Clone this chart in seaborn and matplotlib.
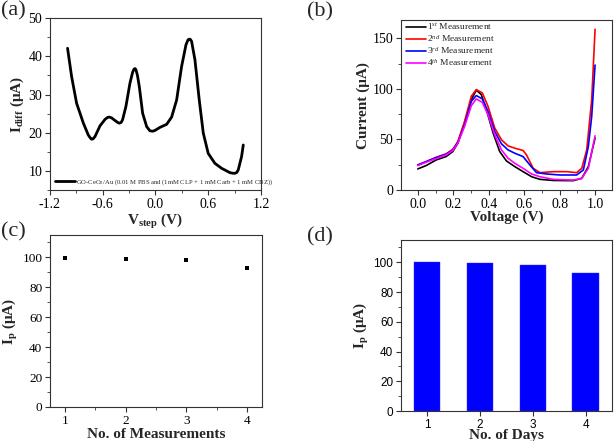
import numpy as np
import pandas as pd
import matplotlib
matplotlib.use("Agg")
import matplotlib.pyplot as plt
from matplotlib.ticker import MultipleLocator
import seaborn as sns

# ---------------- data ----------------
# (a) DPV curve
a_v = [-1.0, -0.954, -0.897, -0.82, -0.764, -0.74, -0.726, -0.71, -0.688, -0.631, -0.574,
       -0.545, -0.525, -0.5, -0.46, -0.43, -0.411, -0.39, -0.374, -0.336, -0.29, -0.26,
       -0.245, -0.233, -0.222, -0.205, -0.184, -0.146, -0.1, -0.063, -0.03, -0.006, 0.051,
       0.127, 0.184, 0.241, 0.297, 0.347, 0.37, 0.385, 0.398, 0.411, 0.449, 0.498, 0.544,
       0.6, 0.676, 0.752, 0.847, 0.88, 0.904, 0.925, 0.942, 0.98, 0.999]
a_i = [42.1, 34.7, 27.7, 22.5, 19.4, 18.6, 18.3, 18.4, 19.0, 21.8, 23.5,
       24.0, 24.1, 23.9, 23.2, 22.7, 22.5, 22.7, 23.4, 26.9, 33.0, 35.8,
       36.6, 36.8, 36.5, 35.0, 32.1, 25.1, 21.6, 20.5, 20.4, 20.6, 21.4,
       22.2, 24.1, 28.6, 37.3, 43.0, 44.3, 44.5, 44.4, 43.9, 39.1, 28.6, 19.9,
       14.6, 12.0, 10.7, 9.56, 9.4, 9.4, 9.6, 10.3, 13.8, 16.8]
a_label = "GO-CeO$_2$/Au (0.01 M PBS and (1mM CLP + 1 mM Carb + 1 mM CBZ))"

# (b) repeated measurements
b1_v = [0, 0.047, 0.104, 0.16, 0.198, 0.226, 0.264, 0.302, 0.33, 0.358, 0.387, 0.425,
        0.462, 0.5, 0.547, 0.594, 0.642, 0.689, 0.764, 0.877, 0.925, 0.962, 1.0]
b1_i = [20.9, 24.2, 29.8, 33.1, 38.1, 46.4, 66.2, 89.4, 98.7, 94.4, 79.5, 56.3,
        38.1, 28.8, 23.2, 18.2, 13.2, 10.6, 9.5, 9.3, 11.6, 23.2, 51.3]
b2_v = [0, 0.047, 0.104, 0.16, 0.198, 0.226, 0.264, 0.302, 0.33, 0.364, 0.396, 0.434,
        0.472, 0.509, 0.547, 0.594, 0.613, 0.651, 0.689, 0.764, 0.84, 0.896, 0.925,
        0.953, 0.981, 1.0]
b2_i = [24.8, 28.1, 32.4, 35.8, 40.4, 48.0, 67.9, 92.7, 99.3, 96.0, 82.8, 61.3,
        49.7, 43.7, 41.4, 39.1, 34.8, 21.5, 17.2, 18.2, 18.2, 17.2, 21.5,
        39.7, 89.4, 158.9]
b3_v = [0, 0.047, 0.104, 0.16, 0.198, 0.226, 0.264, 0.302, 0.33, 0.364, 0.396, 0.434,
        0.472, 0.509, 0.547, 0.594, 0.632, 0.67, 0.726, 0.802, 0.896, 0.934, 0.962,
        0.981, 1.0]
b3_i = [24.8, 28.1, 32.1, 35.4, 39.7, 47.0, 64.6, 87.7, 93.4, 90.1, 77.8, 57.9,
        45.7, 39.7, 36.4, 33.1, 24.8, 17.2, 15.9, 14.9, 14.9, 19.9, 43.0,
        72.8, 123.5]
b4_v = [0, 0.047, 0.104, 0.16, 0.198, 0.226, 0.264, 0.302, 0.33, 0.364, 0.396, 0.434,
        0.472, 0.509, 0.547, 0.594, 0.642, 0.689, 0.764, 0.877, 0.925, 0.962, 1.0]
b4_i = [24.2, 27.5, 31.1, 34.8, 39.1, 46.4, 62.9, 83.4, 90.1, 86.7, 74.5, 54.6,
        39.7, 31.5, 26.5, 21.5, 15.9, 13.2, 10.6, 9.9, 11.6, 21.5, 53.6]
b_labels = ["1$^{st}$ Measurement", "2$^{nd}$ Measurement",
            "3$^{rd}$ Measurement", "4$^{th}$ Measurement"]
b_colors = ["black", "#ff0000", "#0000ff", "#ff00ff"]

# (c) repeatability
c_n = [1, 2, 3, 4]
c_ip = [99.5, 99.0, 98.3, 93.0]

# (d) stability
d_days = ["1", "2", "3", "4"]
d_ip = [100.0, 99.2, 98.5, 93.0]

# ---------------- style ----------------
sns.set_theme(style="ticks")
plt.rcParams["font.family"] = ["Liberation Serif", "DejaVu Serif"]
plt.rcParams["mathtext.fontset"] = "custom"
plt.rcParams["mathtext.rm"] = "Liberation Serif"
plt.rcParams["mathtext.it"] = "Liberation Serif:italic"
plt.rcParams["mathtext.bf"] = "Liberation Serif:bold"
plt.rcParams["axes.edgecolor"] = "#333333"
plt.rcParams["axes.linewidth"] = 0.8
plt.rcParams["xtick.color"] = "#333333"
plt.rcParams["ytick.color"] = "#333333"
plt.rcParams["xtick.labelcolor"] = "black"
plt.rcParams["ytick.labelcolor"] = "black"

fig = plt.figure(figsize=(6.14, 4.41), dpi=100)
axA = fig.add_axes([0.0814, 0.569, 0.3436, 0.390])
axB = fig.add_axes([0.653, 0.569, 0.3436, 0.3855])
axC = fig.add_axes([0.0814, 0.0771, 0.3453, 0.390])
axD = fig.add_axes([0.653, 0.068, 0.3436, 0.3878])

lab_fs = 11

# (a)
dfa = pd.DataFrame({"V": a_v, "I": a_i})
sns.lineplot(data=dfa, x="V", y="I", ax=axA, color="black", lw=2.0,
             sort=False, label=a_label)
axA.set_xlim(-1.2, 1.2)
axA.set_ylim(5, 50)
axA.xaxis.set_minor_locator(MultipleLocator(0.3))
axA.yaxis.set_major_locator(MultipleLocator(10))
axA.yaxis.set_minor_locator(MultipleLocator(5))
axA.set_xticks([-1.2, -0.6, 0.0, 0.6, 1.2])
axA.set_xticklabels(["-1.2", "-0.6", "0.0", "0.6", "1.2"])
axA.set_xlabel(r"$\mathbf{V_{step}}$ (V)", fontsize=lab_fs, fontweight="bold", labelpad=1)
axA.set_ylabel(r"$\mathbf{I_{diff}}$ (μA)", fontsize=lab_fs, fontweight="bold", labelpad=2)
axA.legend(loc="lower left", bbox_to_anchor=(0.0, -0.01), frameon=False,
           fontsize=4.8, handlelength=3.0, handletextpad=0.2, borderaxespad=0.3)

# (b)
for v, i, lab, col in zip([b1_v, b2_v, b3_v, b4_v], [b1_i, b2_i, b3_i, b4_i],
                          b_labels, b_colors):
    dfb = pd.DataFrame({"V": v, "I": i})
    sns.lineplot(data=dfb, x="V", y="I", ax=axB, color=col, lw=1.2,
                 sort=False, label=lab)
axB.set_xlim(-0.095, 1.095)
axB.set_ylim(0, 168)
axB.xaxis.set_major_locator(MultipleLocator(0.2))
axB.xaxis.set_minor_locator(MultipleLocator(0.1))
axB.yaxis.set_major_locator(MultipleLocator(50))
axB.yaxis.set_minor_locator(MultipleLocator(25))
axB.set_xlabel("Voltage (V)", fontsize=lab_fs, fontweight="bold", labelpad=0)
axB.set_ylabel("Current (μA)", fontsize=lab_fs, fontweight="bold", labelpad=2)
axB.legend(loc="upper left", frameon=False, fontsize=6.8, handlelength=2.2,
           handletextpad=0.1, labelspacing=0.12, borderaxespad=0.1,
           bbox_to_anchor=(0.0, 1.02))

# (c)
dfc = pd.DataFrame({"n": c_n, "ip": c_ip})
sns.scatterplot(data=dfc, x="n", y="ip", ax=axC, marker="s", s=10,
                color="black", edgecolor="black", linewidth=0)
axC.set_xlim(0.75, 4.25)
axC.set_ylim(0, 115)
axC.xaxis.set_major_locator(MultipleLocator(1))
axC.xaxis.set_minor_locator(MultipleLocator(0.5))
axC.yaxis.set_major_locator(MultipleLocator(20))
axC.yaxis.set_minor_locator(MultipleLocator(10))
axC.set_xlabel("No. of Measurements", fontsize=lab_fs, fontweight="bold", labelpad=1)
axC.set_ylabel(r"$\mathbf{I_p}$ (μA)", fontsize=lab_fs, fontweight="bold", labelpad=2)

# (d)
dfd = pd.DataFrame({"day": d_days, "ip": d_ip})
sns.barplot(data=dfd, x="day", y="ip", ax=axD, color="#0000ff", width=0.5,
            saturation=1, edgecolor="#3030ff", linewidth=0.3)
axD.set_xlim(-0.5, 3.5)
axD.set_ylim(0, 115)
axD.yaxis.set_major_locator(MultipleLocator(20))
axD.yaxis.set_minor_locator(MultipleLocator(10))
axD.set_xlabel("No. of Days", fontsize=lab_fs, fontweight="bold", labelpad=-1)
axD.set_ylabel(r"$\mathbf{I_p}$ (μA)", fontsize=lab_fs, fontweight="bold", labelpad=2)

for ax, fs in ((axA, 10), (axB, 10), (axC, 9.5), (axD, 8.5)):
    for s in ax.spines.values():
        s.set_visible(True)
    ax.tick_params(which="major", direction="out", length=3.5, width=0.8,
                   labelsize=fs, pad=2)
    ax.tick_params(which="minor", direction="out", length=2, width=0.6)

for lbl in axD.get_xticklabels() + axD.get_yticklabels():
    lbl.set_family(["Liberation Sans", "DejaVu Sans"])

# panel letters
fig.text(0.002, 0.998, "(a)", fontsize=16, va="top", ha="left")
fig.text(0.5, 0.995, "(b)", fontsize=16, va="top", ha="left")
fig.text(0.002, 0.497, "(c)", fontsize=16, va="top", ha="left")
fig.text(0.5, 0.484, "(d)", fontsize=16, va="top", ha="left")

fig.savefig("out.png", dpi=100)
